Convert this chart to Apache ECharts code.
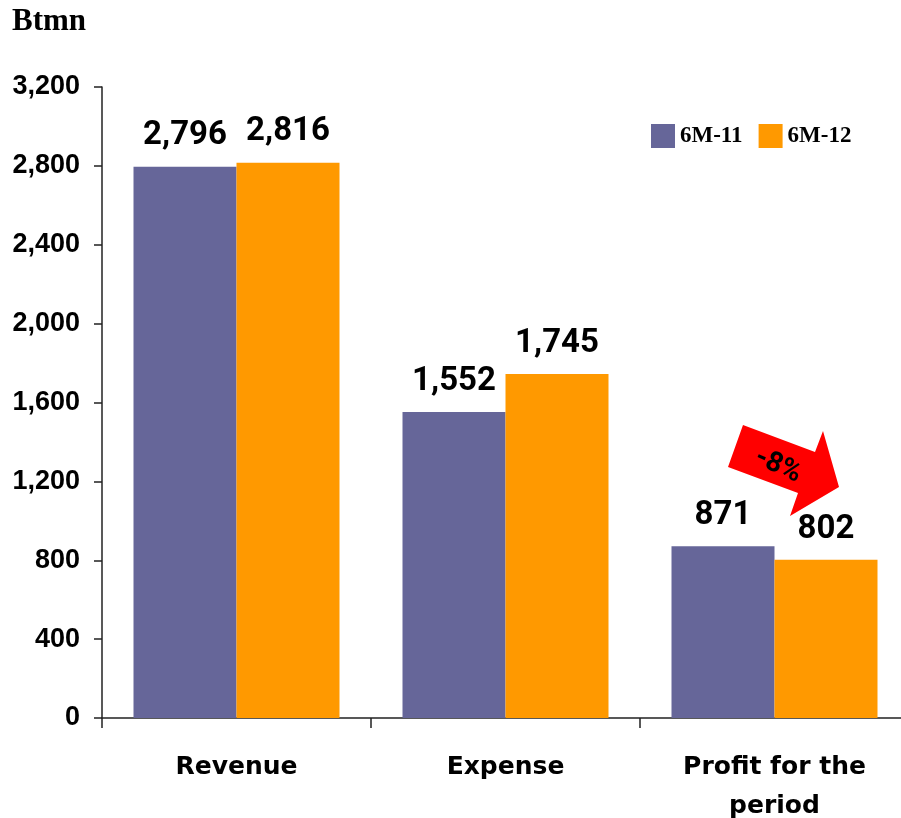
<!DOCTYPE html>
<html>
<head>
<meta charset="utf-8">
<script src="https://cdn.jsdelivr.net/npm/echarts@6/dist/echarts.min.js"></script>
<style>
  html, body { margin: 0; padding: 0; background: #fff; }
  #chart { width: 901px; height: 818px; }
</style>
</head>
<body>
<div id="chart"></div>
<script>
const categories = ['Revenue', 'Expense', 'Profit for the\nperiod']
const series2011 = [2796, 1552, 871]
const series2012 = [2816, 1745, 802]
const seriesNames = ['6M-11', '6M-12']
const changeLabel = '-8%'

const myChart = echarts.init(document.getElementById('chart'))

const labelStyle = {
  show: true,
  position: 'top',
  distance: 14,
  fontFamily: 'Roboto',
  fontWeight: 'bold',
  fontSize: 33,
  color: '#000',
  formatter: p => p.value.toLocaleString('en-US')
}

myChart.setOption({
  animation: false,
  textStyle: { fontFamily: 'Liberation Sans' },
  grid: { left: 102, right: -8, top: 87, bottom: 100, containLabel: false, outerBoundsMode: 'none' },
  legend: {
    data: seriesNames,
    left: 646,
    top: 119,
    itemWidth: 24,
    itemHeight: 24,
    itemGap: 16,
    icon: 'rect',
    textStyle: {
      fontFamily: 'Liberation Serif',
      fontWeight: 'bold',
      fontSize: 23,
      color: '#000'
    }
  },
  graphic: [
    {
      type: 'text',
      left: 12,
      top: 6,
      style: {
        text: 'Btmn',
        font: 'bold 31px "Liberation Serif"',
        fill: '#000'
      }
    },
    {
      type: 'polygon',
      shape: {
        points: [[743, 425], [815, 452], [823, 431], [839, 487], [790, 516], [798, 493], [728, 467]]
      },
      style: { fill: '#ff0000' }
    },
    {
      type: 'text',
      x: 778,
      y: 466,
      rotation: -0.42,
      style: {
        text: changeLabel,
        fontFamily: 'Roboto',
        fontWeight: 'bold',
        fontSize: 28,
        fill: '#000',
        align: 'center',
        verticalAlign: 'middle'
      }
    }
  ],
  xAxis: {
    type: 'category',
    data: categories,
    axisLine: { lineStyle: { color: '#222', width: 1.5 } },
    axisTick: { show: true, length: 10, lineStyle: { color: '#222', width: 1.5 } },
    axisLabel: {
      margin: 30,
      fontFamily: 'DejaVu Sans',
      fontWeight: 'bold',
      fontSize: 25,
      lineHeight: 39,
      color: '#000'
    }
  },
  yAxis: {
    type: 'value',
    min: 0,
    max: 3200,
    interval: 400,
    axisLine: { show: true, lineStyle: { color: '#222', width: 1.5 } },
    axisTick: { show: true, length: 8, lineStyle: { color: '#222', width: 1.5 } },
    splitLine: { show: false },
    axisLabel: {
      margin: 22,
      fontFamily: 'Liberation Sans',
      fontWeight: 'bold',
      fontSize: 27,
      color: '#000',
      formatter: v => v.toLocaleString('en-US')
    }
  },
  series: [
    {
      name: seriesNames[0],
      type: 'bar',
      data: series2011,
      barWidth: 103,
      barGap: '0%',
      itemStyle: { color: '#666699' },
      label: labelStyle
    },
    {
      name: seriesNames[1],
      type: 'bar',
      data: series2012,
      barWidth: 103,
      barGap: '0%',
      itemStyle: { color: '#ff9900' },
      label: labelStyle
    }
  ]
})
</script>
</body>
</html>
